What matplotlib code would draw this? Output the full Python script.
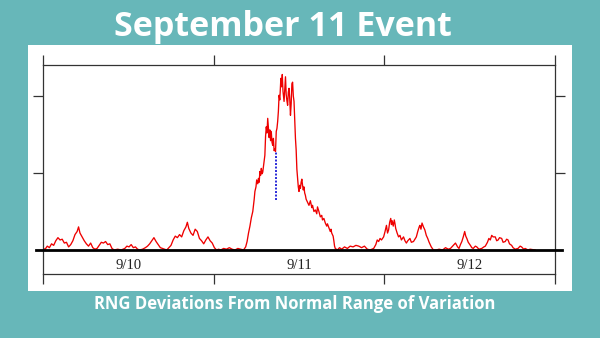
import matplotlib
matplotlib.use("Agg")
import matplotlib.pyplot as plt
from matplotlib.patches import Rectangle

# ---- data (hours since 9/10 00:00, deviation units) ----
hours = [
    0.0, 0.3, 0.6, 0.9, 1.2, 1.5, 1.8, 2.1, 2.4, 2.7, 3.0, 3.3, 3.6, 3.9, 4.2, 4.5, 4.8, 5.0, 5.2, 5.5,
    5.8, 6.1, 6.4, 6.7, 7.0, 7.3, 7.6, 7.9, 8.2, 8.5, 8.8, 9.1, 9.4, 9.7, 10.0, 10.5, 11.0, 11.5, 11.8, 12.1,
    12.4, 12.7, 13.0, 13.3, 13.6, 14.0, 14.4, 14.7, 15.0, 15.3, 15.6, 15.9, 16.2, 16.5, 16.8, 17.1, 17.4, 17.7, 18.0, 18.3,
    18.6, 18.9, 19.2, 19.5, 19.8, 20.1, 20.3, 20.5, 20.8, 21.1, 21.4, 21.7, 22.0, 22.3, 22.6, 22.9, 23.2, 23.5, 23.8, 24.1,
    24.4, 24.7, 25.0, 25.4, 25.8, 26.2, 26.6, 27.0, 27.4, 27.8, 28.2, 28.5, 28.7, 28.9, 29.1, 29.3, 29.5, 29.7, 29.8, 29.95,
    30.05, 30.2, 30.3, 30.4, 30.5, 30.6, 30.7, 30.8, 30.9, 31.05, 31.2, 31.3, 31.4, 31.5, 31.6, 31.7, 31.8, 31.9, 32.0, 32.1,
    32.2, 32.3, 32.4, 32.5, 32.6, 32.7, 32.8, 32.9, 33.0, 33.1, 33.2, 33.3, 33.45, 33.55, 33.65, 33.75, 33.9, 34.0, 34.1, 34.2,
    34.3, 34.4, 34.5, 34.6, 34.7, 34.8, 34.9, 35.0, 35.1, 35.2, 35.3, 35.4, 35.5, 35.6, 35.7, 35.8, 35.9, 36.0, 36.1, 36.2,
    36.3, 36.4, 36.5, 36.6, 36.7, 36.8, 36.9, 37.0, 37.2, 37.4, 37.6, 37.8, 37.9, 38.1, 38.3, 38.5, 38.6, 38.8, 39.0, 39.2,
    39.3, 39.5, 39.7, 39.9, 40.0, 40.2, 40.4, 40.5, 40.6, 40.8, 40.9, 41.0, 41.1, 41.4, 41.7, 42.0, 42.4, 42.8, 43.2, 43.6,
    44.0, 44.4, 44.8, 45.2, 45.6, 46.0, 46.5, 46.8, 47.0, 47.2, 47.4, 47.6, 47.9, 48.1, 48.3, 48.45, 48.6, 48.75, 48.9, 49.0,
    49.1, 49.25, 49.4, 49.5, 49.6, 49.8, 50.0, 50.2, 50.4, 50.55, 50.7, 50.9, 51.1, 51.3, 51.6, 51.8, 52.1, 52.3, 52.5, 52.7,
    52.9, 53.0, 53.15, 53.3, 53.5, 53.7, 53.9, 54.1, 54.3, 54.6, 54.9, 55.3, 55.7, 56.2, 56.6, 57.0, 57.3, 57.7, 58.0, 58.3,
    58.5, 58.7, 58.9, 59.1, 59.3, 59.45, 59.6, 59.8, 60.1, 60.3, 60.5, 60.8, 61.0, 61.3, 61.7, 62.0, 62.2, 62.5, 62.7, 62.9,
    63.1, 63.3, 63.6, 63.8, 64.0, 64.2, 64.5, 64.7, 65.0, 65.2, 65.4, 65.6, 65.9, 66.1, 66.4, 66.8, 67.1, 67.3, 67.6, 67.8,
    68.2, 68.5, 69.2,
]
deviation = [
    0.02, 0.01, 0.05, 0.03, 0.08, 0.06, 0.12, 0.16, 0.13, 0.14, 0.09, 0.10, 0.04, 0.07, 0.12, 0.20, 0.24, 0.30, 0.22, 0.17,
    0.12, 0.08, 0.05, 0.09, 0.03, 0.01, 0.02, 0.06, 0.10, 0.09, 0.11, 0.07, 0.08, 0.02, 0.00, 0.01, 0.00, 0.02, 0.05, 0.04,
    0.07, 0.03, 0.04, 0.01, 0.00, 0.01, 0.03, 0.05, 0.08, 0.12, 0.16, 0.11, 0.07, 0.03, 0.02, 0.01, 0.00, 0.03, 0.06, 0.13,
    0.18, 0.16, 0.20, 0.17, 0.25, 0.30, 0.36, 0.28, 0.22, 0.19, 0.27, 0.24, 0.15, 0.12, 0.08, 0.13, 0.17, 0.12, 0.09, 0.03,
    0.00, 0.01, 0.00, 0.02, 0.01, 0.03, 0.01, 0.00, 0.02, 0.01, 0.00, 0.04, 0.11, 0.22, 0.31, 0.42, 0.50, 0.66, 0.76, 0.82,
    0.91, 0.86, 0.93, 0.88, 1.02, 0.97, 1.06, 0.99, 1.01, 1.12, 1.23, 1.48, 1.60, 1.52, 1.71, 1.58, 1.46, 1.56, 1.42, 1.54,
    1.40, 1.36, 1.45, 1.29, 1.31, 1.28, 1.54, 1.58, 1.67, 1.80, 2.01, 1.95, 2.23, 2.12, 2.28, 2.06, 1.93, 2.10, 2.25, 2.02,
    1.94, 1.88, 2.05, 2.10, 1.96, 1.75, 1.90, 2.16, 2.18, 2.00, 1.93, 1.67, 1.45, 1.30, 1.05, 0.94, 0.82, 0.76, 0.84, 0.80,
    0.88, 0.92, 0.84, 0.78, 0.82, 0.74, 0.71, 0.66, 0.62, 0.58, 0.64, 0.55, 0.58, 0.50, 0.52, 0.47, 0.56, 0.50, 0.43, 0.45,
    0.39, 0.41, 0.35, 0.31, 0.34, 0.29, 0.24, 0.27, 0.22, 0.18, 0.12, 0.05, 0.02, 0.00, 0.03, 0.01, 0.04, 0.02, 0.05, 0.04,
    0.06, 0.05, 0.03, 0.05, 0.01, 0.00, 0.02, 0.07, 0.13, 0.11, 0.15, 0.13, 0.17, 0.24, 0.32, 0.22, 0.26, 0.36, 0.41, 0.33,
    0.38, 0.31, 0.39, 0.34, 0.28, 0.22, 0.17, 0.19, 0.13, 0.15, 0.17, 0.12, 0.09, 0.12, 0.15, 0.10, 0.11, 0.14, 0.17, 0.24,
    0.30, 0.32, 0.27, 0.35, 0.30, 0.26, 0.19, 0.15, 0.10, 0.04, 0.00, 0.00, 0.01, 0.00, 0.03, 0.01, 0.02, 0.06, 0.09, 0.04,
    0.02, 0.07, 0.11, 0.17, 0.24, 0.18, 0.15, 0.10, 0.06, 0.03, 0.02, 0.05, 0.04, 0.01, 0.02, 0.04, 0.05, 0.10, 0.15, 0.13,
    0.19, 0.17, 0.17, 0.12, 0.13, 0.16, 0.15, 0.10, 0.11, 0.14, 0.13, 0.08, 0.06, 0.03, 0.01, 0.02, 0.05, 0.04, 0.01, 0.02,
    0.00, 0.01, 0.00,
]
event_hour = 32.7          # first impact, 8:46 on 9/11
event_low, event_high = 0.65, 1.28
day_ticks = [0, 24, 48, 72]
day_label_pos = [12, 36, 60]
day_labels = ["9/10", "9/11", "9/12"]
y_ticks = [1, 2]

TEAL = "#67b7b9"

fig = plt.figure(figsize=(6.0, 3.38), dpi=100)
fig.patch.set_facecolor(TEAL)

W, H = 600.0, 338.0
# white panel
fig.patches.append(Rectangle((28 / W, 1 - 291 / H), (572 - 28) / W, (291 - 45) / H,
                             transform=fig.transFigure, facecolor="white", edgecolor="none", zorder=-5))

ax = fig.add_axes([43 / W, 1 - 274 / H, (555 - 43) / W, (274 - 65) / H])
ax.set_zorder(2)
ax.set_facecolor("white")
ax.set_xlim(0, 72)
ax.set_ylim(-0.312, 2.403)

ax.plot(hours, deviation, color="#ee0000", lw=0.95, zorder=2)
ax.plot([event_hour, event_hour], [event_low, event_high], color="#2a2ad8", lw=1.4,
        linestyle=(0, (1, 0.8)), zorder=3)

# baseline
ax.axhline(0, xmin=-7 / 512, xmax=1 + 7 / 512, color="black", lw=2.0, clip_on=False, zorder=4)

for s in ax.spines.values():
    s.set_color("#333333")
    s.set_linewidth(0.9)

ax.set_xticks(day_ticks)
ax.set_yticks(y_ticks)
ax.tick_params(axis="x", which="both", direction="out", length=7, width=0.9, color="#333333",
               top=True, bottom=True, labelbottom=False, labeltop=False)
ax.tick_params(axis="y", which="both", direction="out", length=7, width=0.9, color="#333333",
               left=True, right=True, labelleft=False, labelright=False)

for p, lab in zip(day_label_pos, day_labels):
    ax.text(p, -0.2, lab, ha="center", va="center", fontsize=10.5,
            family="Liberation Serif", color="#222222")

fig.text(283 / W, 1 - 36 / H, "September 11 Event", ha="center", va="baseline",
         fontsize=24.5, fontweight="bold", family="Open Sans", color="white")
fig.text(295 / W, 1 - 309 / H, "RNG Deviations From Normal Range of Variation", ha="center", va="baseline",
         fontsize=12, fontweight="bold", family="Open Sans", color="white")

fig.savefig("out.png", dpi=100, facecolor=TEAL)
